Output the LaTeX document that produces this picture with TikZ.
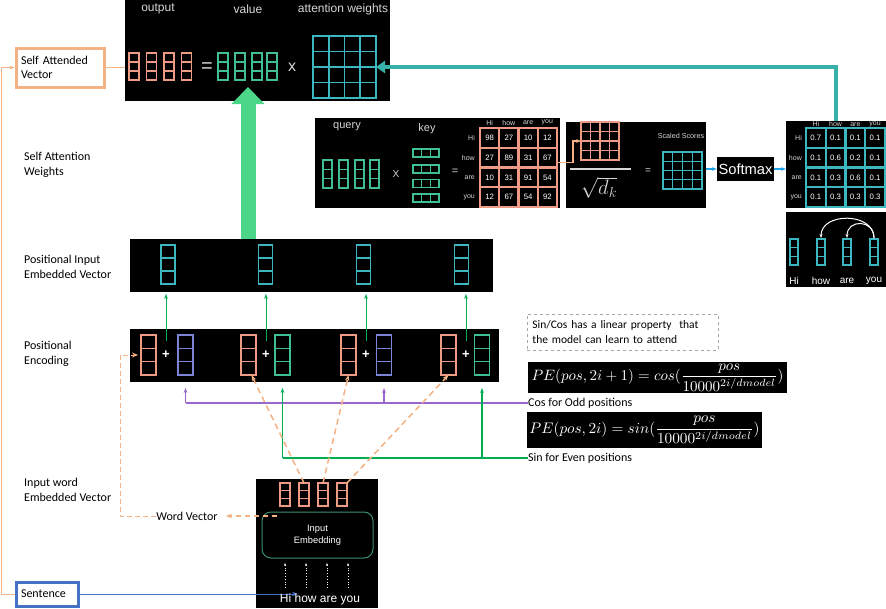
\documentclass[tikz,border=0pt]{standalone}
\usepackage{fontspec}
\setmainfont{Carlito}
\newfontfamily\rob{Liberation Sans}
\usetikzlibrary{calc,arrows.meta}

\definecolor{salmon}{HTML}{EE9A84}
\definecolor{tgreen}{HTML}{3FBF92}
\definecolor{tcyan}{HTML}{3DB7BF}
\definecolor{pblue}{HTML}{7C84DA}
\definecolor{oline}{HTML}{F4B183}
\definecolor{garrow}{HTML}{00B050}
\definecolor{purp}{HTML}{9966CC}
\definecolor{bigg}{HTML}{4CD68A}
\definecolor{tarrow}{HTML}{36B0A8}
\definecolor{bluebox}{HTML}{4472C4}
\definecolor{smarrow}{HTML}{1CA3EC}
\definecolor{ptext}{HTML}{D6D6D6}
\definecolor{embgreen}{HTML}{3A8F6E}

\tikzset{
 panel/.style={fill=black, draw=none, anchor=north west, inner sep=0pt, outer sep=0pt},
 ptxt/.style={text=ptext, font=\rob\fontsize{11}{13}\selectfont, inner sep=0pt},
 lbl/.style={font=\fontsize{12}{15}\selectfont, align=left, anchor=west, inner sep=0pt},
 box/.style={draw=#1, line width=3pt, fill=white, align=left, font=\fontsize{12}{14}\selectfont, inner ysep=0pt, inner xsep=5pt},
 mnum/.style={text=white, font=\rob\fontsize{7.8}{9}\selectfont, inner sep=0pt},
 mlab/.style={text=ptext, font=\rob\fontsize{7}{8}\selectfont, inner sep=0pt},
 vv/.style={draw=#1, line width=1.3pt, inner sep=0pt, outer sep=0pt, path picture={
   \draw[#1, line width=1.3pt]
   ($(path picture bounding box.north west)!1/3!(path picture bounding box.south west)$) -- ($(path picture bounding box.north east)!1/3!(path picture bounding box.south east)$)
   ($(path picture bounding box.north west)!2/3!(path picture bounding box.south west)$) -- ($(path picture bounding box.north east)!2/3!(path picture bounding box.south east)$);}},
 hv/.style={draw=#1, line width=1.2pt, inner sep=0pt, outer sep=0pt, path picture={
   \draw[#1, line width=1.2pt]
   ($(path picture bounding box.north west)!1/3!(path picture bounding box.north east)$) -- ($(path picture bounding box.south west)!1/3!(path picture bounding box.south east)$)
   ($(path picture bounding box.north west)!2/3!(path picture bounding box.north east)$) -- ($(path picture bounding box.south west)!2/3!(path picture bounding box.south east)$);}},
 grid4/.style 2 args={draw=#1, line width=#2, inner sep=0pt, outer sep=0pt, anchor=north west, path picture={
   \foreach \k in {1,2,3}{
     \draw[#1, line width=#2]
     ($(path picture bounding box.north west)!\k/4!(path picture bounding box.north east)$) -- ($(path picture bounding box.south west)!\k/4!(path picture bounding box.south east)$)
     ($(path picture bounding box.north west)!\k/4!(path picture bounding box.south west)$) -- ($(path picture bounding box.north east)!\k/4!(path picture bounding box.south east)$);}}},
 tipS/.style={-{Stealth[length=#1]}},
}

\newcommand\matvals[6]{%
 \foreach \mrow [count=\mr] in {#6}{%
  \foreach \mv [count=\mc] in \mrow{%
   \node[mnum] (#1\mr\mc) at ({#2+(\mc-0.5)*#4},{#3+(\mr-0.5)*#5}) {\mv};}}}

\begin{document}
\begin{tikzpicture}[x=1pt, y=-1pt]
\useasboundingbox (0,0) rectangle (886,608);

% ---------- panels ----------
\node[panel, minimum width=265pt, minimum height=101pt] (ptop) at (125,0) {};
\node[panel, minimum width=245pt, minimum height=90pt] (pqk) at (315,118) {};
\node[panel, minimum width=140pt, minimum height=86pt] (psq) at (566,122) {};
\node[fill=black, minimum width=57pt, minimum height=24pt, inner sep=0pt, text=white, font=\rob\fontsize{14.7}{16}\selectfont] (psm) at (745.5,169) {Softmax};
\node[panel, minimum width=100pt, minimum height=87pt] (patt) at (786,121) {};
\node[panel, minimum width=100pt, minimum height=75pt] (patt2) at (786,212) {};
\node[panel, minimum width=363pt, minimum height=53pt] (ppie) at (130,239) {};
\node[panel, minimum width=369pt, minimum height=53pt] (ppe) at (130,329) {};
\node[panel, minimum width=259pt, minimum height=31pt] (pcos) at (528,362) {};
\node[panel, minimum width=235pt, minimum height=36pt] (psin) at (527,412) {};
\node[panel, minimum width=122pt, minimum height=129pt] (pemb) at (256,479) {};

% ---------- top panel ----------
\node[ptxt, font=\rob\fontsize{12}{14}\selectfont] (tout) at (158,9) {output};
\node[ptxt, font=\rob\fontsize{12}{14}\selectfont] (tval) at (248,9) {value};
\node[ptxt, font=\rob\fontsize{12}{14}\selectfont] (tatt) at (343,9) {attention weights};
\foreach \x [count=\i] in {134,151.5,169,186.5}
  \node[vv=salmon, minimum width=10pt, minimum height=27pt] (o\i) at (\x,66.5) {};
\foreach \x [count=\i] in {223,240,257,272}
  \node[vv=tgreen, minimum width=10pt, minimum height=27pt] (va\i) at (\x,66.5) {};
\node[ptxt, font=\rob\fontsize{20}{20}\selectfont] (teq) at (207,68) {=};
\node[ptxt, font=\rob\fontsize{16}{16}\selectfont] (tx) at (292,67) {x};
\node[grid4={tcyan}{1.8pt}, minimum width=63pt, minimum height=62pt] (amat) at (313,36) {};

% ---------- left boxes and labels ----------
\node[box=oline, text width=78pt, minimum height=39pt] (sav) at (60,67.5) {Self Attended\\Vector};
\node[box=bluebox, text width=52pt, minimum height=24pt] (sent) at (47,594) {Sentence};
\draw[oline, line width=0.8pt] (sav.east) -- (sav.east -| ptop.west);
\draw[oline, line width=0.8pt, tipS=5pt] (sent.west) -- ++(-13,0) |- (sav.west);
\coordinate (hiend) at (298,594);
\draw[bluebox, line width=1pt, tipS=6pt] (sent.east) -- (sent.east -| hiend);

\node[lbl] (l1) at (24,164.5) {Self Attention\\Weights};
\node[lbl] (l2) at (24,266.5) {Positional Input\\Embedded Vector};
\node[lbl] (l3) at (24,354) {Positional\\Encoding};
\node[lbl] (l4) at (24,490) {Input word\\Embedded Vector};

% ---------- query / key panel ----------
\node[ptxt] (tq) at (347,127) {query};
\node[ptxt] (tk) at (427,129) {key};
\foreach \x [count=\i] in {327.5,343.5,359.5,374.5}
  \node[vv=tgreen, minimum width=9pt, minimum height=28pt] (q\i) at (\x,174) {};
\node[ptxt, font=\rob\fontsize{10}{12}\selectfont] (tX) at (396,174) {X};
\foreach \y [count=\i] in {153,169,183.5,198}
  \node[hv=tgreen, minimum width=26pt, minimum height=8pt] (k\i) at (426,\y) {};
\node[ptxt, font=\rob\fontsize{11}{12}\selectfont] (tqe) at (455,172) {=};
\node[grid4={salmon}{2.2pt}, minimum width=77pt, minimum height=79pt] (sm) at (480,128) {};
\matvals{sm}{480}{128}{19.25}{19.75}{{98,27,10,12},{27,89,31,67},{10,31,91,54},{12,67,54,92}}
\foreach \w [count=\i] in {Hi,how,are,you}{
  \node[mlab, anchor=east] (smr\i) at (475,{128+(\i-0.5)*19.75}) {\w};
  \node[mlab] (smc\i) at ({480+(\i-0.5)*19.25},122.5) {\w};
}

% ---------- scaled scores panel ----------
\node[grid4={salmon}{1.3pt}, minimum width=38pt, minimum height=38pt] (sg) at (581,122) {};
\draw[ptext, line width=1.5pt] (570,169) -- (631,169);
\node[text=ptext, font=\fontsize{21}{21}\selectfont, inner sep=0pt] (sqd) at (599,188) {$\sqrt{d_k}$};
\node[ptxt, font=\rob\fontsize{10}{12}\selectfont] (sqe) at (648,171) {=};
\node[ptxt, font=\rob\fontsize{7.2}{9}\selectfont] (ssc) at (681,136) {Scaled Scores};
\node[grid4={tcyan}{1.3pt}, minimum width=39pt, minimum height=37pt] (ssg) at (663,152) {};
\draw[oline, line width=1.2pt, tipS=5pt] ([yshift=5pt]sm.east) -- ++(16,0) |- (sg.west);

% ---------- softmax arrows ----------
\draw[smarrow, line width=1.2pt, tipS=5pt] (psq.east |- psm.west) -- (psm.west);
\draw[smarrow, line width=1.2pt, tipS=5pt] (psm.east) -- (psm.east -| patt.west);

% ---------- attention weights panel ----------
\node[grid4={tcyan}{2.2pt}, minimum width=79pt, minimum height=79pt] (wm) at (806,128) {};
\matvals{wm}{806}{128}{19.75}{19.75}{{0.7,0.1,0.1,0.1},{0.1,0.6,0.2,0.1},{0.1,0.3,0.6,0.1},{0.1,0.3,0.3,0.3}}
\foreach \w [count=\i] in {Hi,how,are,you}{
  \node[mlab, anchor=east] (wmr\i) at (802,{128+(\i-0.5)*19.75}) {\w};
  \node[mlab] (wmc\i) at ({806+(\i-0.5)*19.75},124.3) {\w};
}
\foreach \x/\w [count=\i] in {794/Hi,821/how,847/are,874/you}{
  \node[vv=tcyan, minimum width=8pt, minimum height=26pt] (av\i) at (\x,252) {};
  \node[ptxt, text=white, font=\rob\fontsize{10}{12}\selectfont] (avl\i) at (\x,281) {\w};
}
\draw[white, line width=1pt, tipS=4pt] ([yshift=1pt]av4.north) .. controls +(0,-26) and +(0,-26) .. ([yshift=1pt]av2.north);
\draw[white, line width=1pt, tipS=4pt] ([yshift=1pt]av4.north) .. controls +(0,-19) and +(0,-19) .. ([yshift=1pt]av3.north);

% ---------- big arrows ----------
\draw[tarrow, line width=4pt, -{Triangle[width=12pt,length=9pt]}] (patt.north) |- (amat.east);
\coordinate (gtip) at (248,87);
\draw[bigg, line width=15pt, -{Triangle[width=32pt,length=17pt]}] (gtip |- ppie.north) -- (gtip);

% ---------- positional input embedded panel ----------
\foreach \x [count=\i] in {168,265.5,363.5,461.5}
  \node[vv=tcyan, minimum width=14pt, minimum height=39pt] (pie\i) at (\x,264.5) {};

% ---------- positional encoding panel ----------
\foreach \x [count=\i] in {148.5,248.5,348.5,448.5}
  \node[vv=salmon, minimum width=15pt, minimum height=40pt] (pes\i) at (\x,355) {};
\foreach \x/\cl [count=\i] in {185.5/pblue,282.5/tgreen,384/pblue,482/tgreen}
  \node[vv=\cl, minimum width=15pt, minimum height=40pt] (pep\i) at (\x,355) {};
\foreach \x [count=\i] in {166,266,366,466}{
  \node[text=white, font=\rob\bfseries\fontsize{13}{13}\selectfont, minimum height=28pt, inner sep=0pt] (plus\i) at (\x,355) {+};
  \draw[garrow, line width=1pt, tipS=5pt, shorten >=2pt] (plus\i.north) -- (plus\i.north |- ppie.south);
}

% ---------- sin / cos ----------
\node[draw=gray!70, dashed, line width=0.8pt, anchor=north west, minimum width=191pt, minimum height=36pt, text width=181pt, align=left, inner xsep=5pt, inner ysep=0pt, font=\fontsize{11.5}{15}\selectfont] (scbox) at (527,314) {Sin/Cos has a linear property\ \ that\\the model can learn to attend};
\node[text=white, inner sep=0pt] (fcos) at (pcos.center) {\resizebox{252pt}{!}{$\displaystyle PE(pos,2i+1) = cos(\frac{pos}{10000^{2i/dmodel}})$}};
\node[text=white, inner sep=0pt] (fsin) at (psin.center) {\resizebox{230pt}{!}{$\displaystyle PE(pos,2i) = sin(\frac{pos}{10000^{2i/dmodel}})$}};

\node[lbl] (cosl) at (528,403) {Cos for Odd positions};
\node[lbl] (sinl) at (528,458) {Sin for Even positions};
\draw[purp, line width=1.2pt] (cosl.west) -- (cosl.west -| pep1);
\foreach \i in {1,3}
  \draw[purp, line width=1.2pt, tipS=5pt, shorten >=6pt] (cosl.west -| pep\i) -- (pep\i |- ppe.south);
\draw[garrow, line width=1.2pt] (sinl.west) -- (sinl.west -| pep2);
\foreach \i in {2,4}
  \draw[garrow, line width=1.2pt, tipS=5pt, shorten >=6pt] (sinl.west -| pep\i) -- (pep\i |- ppe.south);

% ---------- input embedding panel ----------
\foreach \x [count=\i] in {285,304,323,342}
  \node[vv=salmon, minimum width=10pt, minimum height=23pt] (ev\i) at (\x,494.5) {};
\node[draw=embgreen, line width=1pt, rounded corners=9pt, minimum width=111pt, minimum height=46pt, text=white, align=center, font=\rob\fontsize{9.3}{12}\selectfont] (ie) at (317.5,535) {Input\\Embedding};
\node[text=white, font=\rob\fontsize{12}{14}\selectfont, inner sep=0pt] (hw) at (320,599) {Hi how are you};
\foreach \x in {285,306,327,348}
  \draw[white, dotted, line width=0.8pt, tipS=3pt] (\x,588) -- (\x,563);

% ---------- word vector dashed connectors ----------
\node[lbl, anchor=center] (wv) at (187,516) {Word Vector};
\coordinate (wvs) at (277,516);
\draw[oline, dashed, dash pattern=on 5pt off 4pt, line width=1.8pt, tipS=6pt, shorten >=8pt] (wvs) -- (wv.east);
\draw[oline, dashed, dash pattern=on 5pt off 3pt, line width=1pt, -{Stealth[length=6pt,width=5pt]}, shorten >=3pt] (wv.west) -- ++(-36,0) |- (pes1.west);
\draw[oline, dashed, dash pattern=on 6pt off 4pt, line width=1.5pt, tipS=6pt] (ev2.north) -- ([xshift=3pt]pes2.south);
\draw[oline, dashed, dash pattern=on 6pt off 4pt, line width=1.5pt, tipS=6pt] (ev3.north) -- (pes3.south);
\draw[oline, dashed, dash pattern=on 6pt off 4pt, line width=1.5pt, tipS=6pt] (ev4.north east) -- (pes4.south);
\end{tikzpicture}
\end{document}
